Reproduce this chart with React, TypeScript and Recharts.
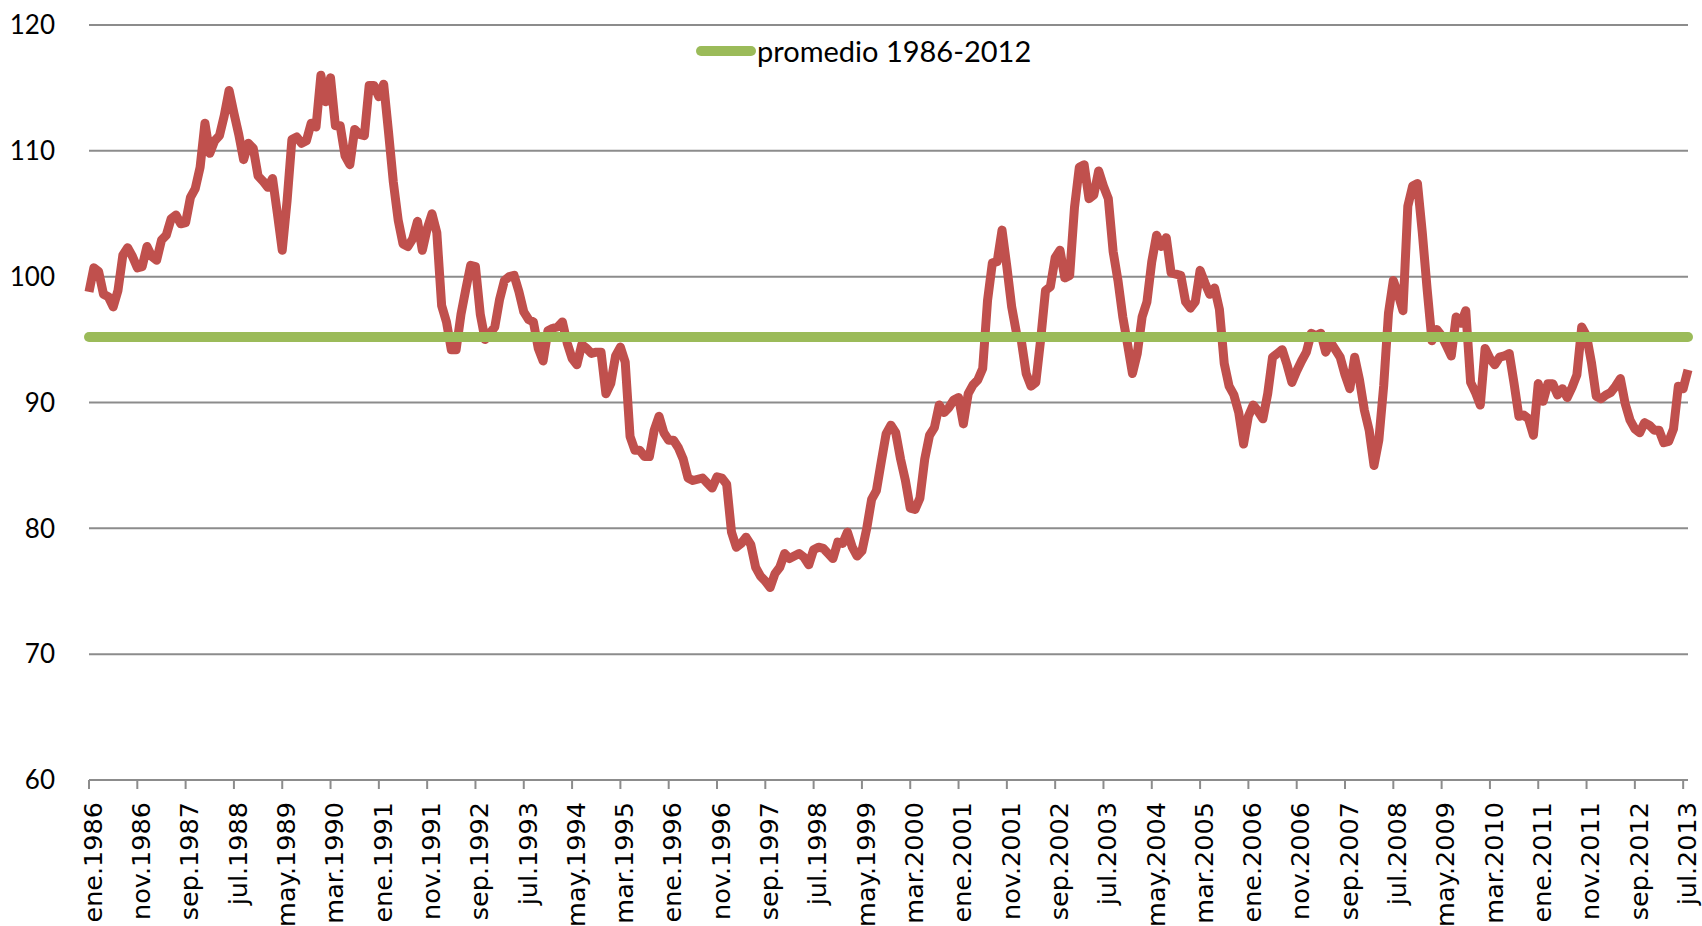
import React from 'react';
import { LineChart, Line, XAxis, YAxis, CartesianGrid, Legend } from 'recharts';

const MONTHS = ['ene', 'feb', 'mar', 'abr', 'may', 'jun', 'jul', 'ago', 'sep', 'oct', 'nov', 'dic'];
const START_YEAR = 1986;

const INDEX_VALUES = [
  98.8, 100.7, 100.4, 98.6, 98.4, 97.6, 98.9, 101.7, 102.3, 101.6,
  100.7, 100.8, 102.4, 101.6, 101.3, 102.9, 103.3, 104.6, 104.9, 104.2,
  104.3, 106.3, 107.0, 108.7, 112.2, 109.8, 110.8, 111.2, 112.8, 114.8,
  113.0, 111.3, 109.3, 110.6, 110.2, 108.0, 107.6, 107.1, 107.8, 105.0,
  102.1, 106.0, 110.9, 111.1, 110.6, 110.8, 112.2, 111.9, 116.0, 113.9,
  115.8, 112.0, 112.0, 109.6, 108.9, 111.7, 111.3, 111.2, 115.2, 115.2,
  114.3, 115.3, 111.5, 107.5, 104.5, 102.6, 102.4, 103.0, 104.4, 102.1,
  103.8, 105.0, 103.5, 97.7, 96.4, 94.2, 94.2, 97.0, 99.0, 100.9,
  100.8, 97.0, 95.0, 95.5, 96.0, 98.2, 99.7, 100.0, 100.1, 98.8,
  97.2, 96.6, 96.4, 94.3, 93.3, 95.7, 95.9, 96.0, 96.4, 94.7,
  93.5, 93.0, 94.6, 94.3, 93.9, 94.0, 94.0, 90.7, 91.5, 93.7,
  94.4, 93.2, 87.3, 86.2, 86.2, 85.7, 85.7, 87.8, 88.9, 87.6,
  87.0, 87.0, 86.4, 85.5, 84.0, 83.8, 83.9, 84.0, 83.6, 83.2,
  84.1, 84.0, 83.5, 79.7, 78.5, 78.8, 79.3, 78.7, 76.9, 76.2,
  75.8, 75.3, 76.4, 76.9, 78.0, 77.6, 77.8, 78.0, 77.7, 77.1,
  78.3, 78.5, 78.4, 78.0, 77.6, 78.9, 78.8, 79.7, 78.5, 77.8,
  78.2, 80.0, 82.3, 83.0, 85.3, 87.5, 88.2, 87.6, 85.5, 83.8,
  81.6, 81.5, 82.4, 85.5, 87.4, 88.0, 89.8, 89.2, 89.6, 90.2,
  90.4, 88.3, 90.7, 91.4, 91.8, 92.7, 98.1, 101.1, 101.2, 103.7,
  100.8, 97.6, 95.5, 94.9, 92.3, 91.3, 91.6, 95.0, 98.9, 99.2,
  101.5, 102.1, 99.9, 100.1, 105.5, 108.7, 108.9, 106.2, 106.5, 108.4,
  107.2, 106.2, 102.0, 99.7, 96.8, 94.6, 92.3, 93.9, 96.8, 98.0,
  101.2, 103.3, 102.4, 103.1, 100.3, 100.2, 100.1, 98.0, 97.5, 98.0,
  100.5, 99.5, 98.6, 99.1, 97.4, 93.1, 91.3, 90.6, 89.2, 86.7,
  88.9, 89.8, 89.3, 88.7, 90.7, 93.6, 93.9, 94.2, 93.0, 91.6,
  92.5, 93.3, 94.0, 95.5, 95.3, 95.5, 94.0, 94.8, 94.2, 93.6,
  92.2, 91.1, 93.6, 91.8, 89.4, 87.8, 85.0, 87.0, 91.3, 97.1,
  99.7, 98.6, 97.3, 105.6, 107.2, 107.4, 103.5, 99.0, 94.9, 95.8,
  95.3, 94.5, 93.7, 96.8, 96.3, 97.3, 91.6, 90.8, 89.8, 94.3,
  93.5, 93.0, 93.6, 93.7, 93.9, 91.5, 88.9, 89.0, 88.7, 87.4,
  91.5, 90.1, 91.5, 91.5, 90.6, 91.1, 90.4, 91.2, 92.2, 96.0,
  95.3, 93.2, 90.5, 90.3, 90.6, 90.8, 91.3, 91.9, 89.9, 88.6,
  87.9, 87.6, 88.4, 88.2, 87.8, 87.8, 86.8, 86.9, 87.9, 91.3,
  91.1, 92.6,
];

const AVERAGE_1986_2012 = 95.2;
const AVERAGE_LABEL = 'promedio 1986-2012';
const Y_TICKS = [60, 70, 80, 90, 100, 110, 120];

const data = INDEX_VALUES.map((v, i) => ({
  label: `${MONTHS[i % 12]}.${START_YEAR + Math.floor(i / 12)}`,
  value: v,
  avg: AVERAGE_1986_2012,
}));

const XTick = (props: any) => {
  const { x, y, payload } = props;
  return (
    <g transform={`translate(${x},${y})`}>
      <text
        transform="rotate(-90)"
        x={-11}
        y={0}
        dy="0.5em"
        textAnchor="end"
        fontFamily="'DejaVu Sans', Verdana, sans-serif"
        fontSize={25.5}
        fill="#000"
      >
        {payload.value}
      </text>
    </g>
  );
};

const LegendContent = () => (
  <div style={{ display: 'flex', alignItems: 'center', fontFamily: 'Lato, sans-serif', fontSize: 29, color: '#000', lineHeight: 1, whiteSpace: 'nowrap' }}>
    <svg width={62} height={14} style={{ display: 'block' }}>
      <line x1={6} y1={7} x2={56} y2={7} stroke="#9BBB59" strokeWidth={10} strokeLinecap="round" />
    </svg>
    <span>{AVERAGE_LABEL}</span>
  </div>
);

export default function App() {
  return (
    <div style={{ position: 'absolute', left: 0, top: 0, width: 1702, height: 926, background: '#fff' }}>
      <LineChart
        width={1702}
        height={926}
        data={data}
        margin={{ top: 25, right: 14, left: 0, bottom: 0 }}
      >
        <CartesianGrid horizontal vertical={false} stroke="#8c8c8c" strokeWidth={2} />
        <XAxis
          dataKey="label"
          scale="point"
          padding={{ left: 0, right: 0 }}
          interval={9}
          height={146}
          tickSize={9}
          tickMargin={2}
          tick={<XTick />}
          axisLine={{ stroke: '#8c8c8c', strokeWidth: 2 }}
          tickLine={{ stroke: '#8c8c8c', strokeWidth: 2 }}
        />
        <YAxis
          domain={[60, 120]}
          ticks={Y_TICKS}
          width={89}
          axisLine={false}
          tickLine={false}
          tickSize={0}
          tickMargin={34}
          tick={{ fontFamily: 'Lato, sans-serif', fontSize: 26, fill: '#000' }}
          interval={0}
        />
        <Legend
          layout="horizontal"
          verticalAlign="middle"
          align="center"
          content={<LegendContent />}
          wrapperStyle={{ position: 'absolute', left: 695, top: 36, width: 'auto', height: 'auto' }}
        />
        <Line
          type="linear"
          dataKey="value"
          stroke="#C0504D"
          strokeWidth={9}
          strokeLinejoin="round"
          dot={false}
          activeDot={false}
          isAnimationActive={false}
          legendType="none"
        />
        <Line
          type="linear"
          dataKey="avg"
          stroke="#9BBB59"
          strokeWidth={10}
          strokeLinecap="round"
          dot={false}
          activeDot={false}
          isAnimationActive={false}
        />
      </LineChart>
    </div>
  );
}
